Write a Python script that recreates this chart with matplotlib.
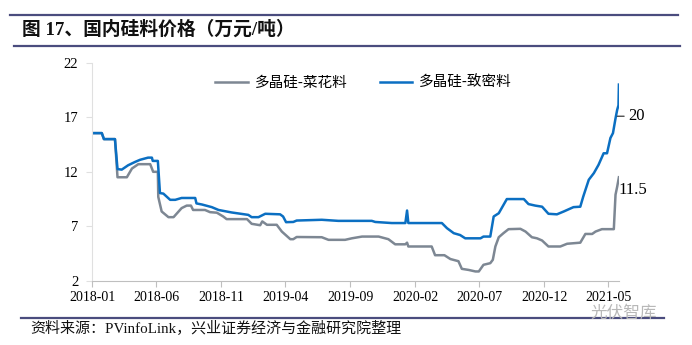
import pandas as pd
import matplotlib
matplotlib.use("Agg")
import matplotlib.pyplot as plt
from matplotlib.lines import Line2D

plt.rcParams['font.family'] = ['Liberation Serif', 'Noto Sans CJK SC', 'DejaVu Sans']

# polysilicon prices, 10k yuan / ton (at turning points)
dense_dates = ["2018-01-01", "2018-01-24", "2018-01-29", "2018-02-24", "2018-03-02", "2018-03-12",
               "2018-03-27", "2018-04-12", "2018-04-24", "2018-05-13", "2018-05-22", "2018-05-24",
               "2018-06-05", "2018-06-10", "2018-06-18", "2018-07-04", "2018-07-16", "2018-07-31",
               "2018-09-01", "2018-09-04", "2018-09-17", "2018-10-10", "2018-10-26", "2018-11-26",
               "2019-01-04", "2019-01-12", "2019-01-28", "2019-02-13", "2019-03-20", "2019-03-27",
               "2019-04-03", "2019-04-20", "2019-04-28", "2019-06-26", "2019-08-04", "2019-10-22",
               "2019-10-30", "2019-12-08", "2020-01-09", "2020-01-13", "2020-01-16", "2020-04-04",
               "2020-04-16", "2020-05-02", "2020-05-17", "2020-05-29", "2020-07-04", "2020-07-11",
               "2020-07-27", "2020-08-04", "2020-08-16", "2020-09-04", "2020-10-14", "2020-10-25",
               "2020-11-10", "2020-11-26", "2020-12-11", "2020-12-31", "2021-01-16", "2021-02-08",
               "2021-02-24", "2021-03-03", "2021-03-16", "2021-03-28", "2021-04-08", "2021-04-20",
               "2021-04-28", "2021-05-06", "2021-05-12", "2021-05-18", "2021-05-22", "2021-05-25",
               "2021-05-26"]
dense_price = [15.55, 15.55, 15.0, 15.0, 12.25, 12.2,
               12.6, 12.9, 13.1, 13.3, 13.3, 13.0,
               13.0, 10.05, 10.0, 9.43, 9.43, 9.6,
               9.6, 9.1, 9.0, 8.76, 8.5, 8.27,
               8.05, 7.84, 7.84, 8.15, 8.1, 7.9,
               7.38, 7.4, 7.53, 7.6, 7.5, 7.5,
               7.4, 7.3, 7.3, 8.45, 7.3, 7.3,
               6.83, 6.37, 6.2, 5.9, 5.9, 6.06,
               6.06, 7.9, 8.2, 9.5, 9.5, 9.04,
               8.9, 8.8, 8.15, 8.1, 8.36, 8.76,
               8.8, 9.73, 11.27, 11.88, 12.64, 13.7,
               13.7, 15.1, 15.55, 16.9, 17.7, 18.1,
               20.0]

cauli_dates = ["2018-01-01", "2018-01-24", "2018-01-29", "2018-02-24", "2018-03-02", "2018-03-24",
               "2018-04-05", "2018-04-20", "2018-05-18", "2018-05-25", "2018-06-05", "2018-06-06",
               "2018-06-14", "2018-06-30", "2018-07-12", "2018-07-31", "2018-08-12", "2018-08-22",
               "2018-08-27", "2018-09-24", "2018-10-06", "2018-10-22", "2018-11-06", "2018-11-14",
               "2019-01-01", "2019-01-12", "2019-02-01", "2019-02-06", "2019-02-17", "2019-03-12",
               "2019-03-24", "2019-04-13", "2019-04-20", "2019-04-28", "2019-06-26", "2019-07-12",
               "2019-08-20", "2019-09-05", "2019-09-29", "2019-11-07", "2019-11-30", "2019-12-16",
               "2020-01-09", "2020-01-13", "2020-01-16", "2020-03-11", "2020-03-19", "2020-04-10",
               "2020-04-24", "2020-05-13", "2020-05-21", "2020-06-06", "2020-06-22", "2020-06-30",
               "2020-07-11", "2020-07-27", "2020-08-02", "2020-08-08", "2020-08-16", "2020-08-27",
               "2020-09-08", "2020-10-06", "2020-10-18", "2020-11-02", "2020-11-14", "2020-11-26",
               "2020-12-11", "2021-01-08", "2021-01-24", "2021-02-24", "2021-03-08", "2021-03-24",
               "2021-04-01", "2021-04-16", "2021-05-14", "2021-05-18", "2021-05-22", "2021-05-26"]
cauli_price = [15.55, 15.55, 15.0, 15.0, 11.5, 11.5,
               12.3, 12.7, 12.7, 12.0, 12.0, 9.7,
               8.36, 7.84, 7.84, 8.67, 8.9, 8.9,
               8.5, 8.5, 8.3, 8.25, 7.9, 7.66,
               7.66, 7.23, 7.1, 7.45, 7.14, 7.14,
               6.52, 5.82, 5.82, 6.02, 6.0, 5.76,
               5.76, 5.9, 6.06, 6.06, 5.82, 5.35,
               5.35, 5.5, 5.15, 5.15, 4.35, 4.35,
               4.0, 3.8, 3.1, 3.0, 2.86, 2.86,
               3.47, 3.62, 3.93, 5.15, 6.0, 6.37,
               6.74, 6.77, 6.52, 6.0, 5.9, 5.7,
               5.15, 5.15, 5.4, 5.5, 6.3, 6.3,
               6.52, 6.74, 6.74, 9.9, 10.65, 11.5]

tick_labels = ["2018-01", "2018-06", "2018-11", "2019-04", "2019-09",
               "2020-02", "2020-07", "2020-12", "2021-05"]
y_ticks = [2, 7, 12, 17, 22]

dense = pd.Series(dense_price, index=pd.to_datetime(dense_dates))
cauli = pd.Series(cauli_price, index=pd.to_datetime(cauli_dates))

navy = "#4A4C7E"
gray = "#7D8793"
blue = "#0B6FC2"

fig = plt.figure(figsize=(6.92, 3.45), dpi=100)

# header / footer rules and texts
fig.add_artist(Line2D([0.015, 0.98], [0.957, 0.957], color=navy, lw=1.6))
fig.add_artist(Line2D([0.02, 0.983], [0.868, 0.868], color=navy, lw=1.6))
fig.add_artist(Line2D([0.03, 0.96], [0.079, 0.079], color=navy, lw=1.6))
fig.text(0.032, 0.913, "图 17、国内硅料价格（万元/吨）", fontsize=13.5, fontweight="bold",
         va="center", ha="left", color="#111111")
fig.text(0.043, 0.047, "资料来源：PVinfoLink，兴业证券经济与金融研究院整理", fontsize=10.8,
         va="center", ha="left", color="#111111")
fig.text(0.95, 0.092, "光伏智库", fontsize=12, va="center", ha="right", color="#B8B8B8",
         family=["Noto Sans CJK SC"])

ax = fig.add_axes([0.133, 0.186, 0.762, 0.632])
ax.plot(cauli.index, cauli.values, color=gray, lw=1.8, label="多晶硅-菜花料")
ax.plot(dense.index, dense.values, color=blue, lw=1.8, label="多晶硅-致密料")

ax.set_ylim(2, 22)
ax.set_yticks(y_ticks)
ax.set_xlim(pd.Timestamp("2018-01-01"), pd.Timestamp("2021-05-27"))
ax.set_xticks(pd.to_datetime([t + "-01" for t in tick_labels]))
ax.set_xticklabels(tick_labels)

for s in ["top", "right"]:
    ax.spines[s].set_visible(False)
ax.spines["left"].set_color("#E0E0E0")
ax.spines["bottom"].set_color("#BFBFBF")
ax.tick_params(axis="y", length=4, color="#E0E0E0", labelsize=10.5, pad=6)
ax.tick_params(axis="x", length=4, color="#BFBFBF", labelsize=10, pad=3)

# end-of-line value labels
ax.annotate("20", xy=(pd.Timestamp("2021-05-22"), 17.1), xytext=(8, 0),
            textcoords="offset points", va="center", ha="left", fontsize=12,
            arrowprops=dict(arrowstyle="-", color="#222222", lw=0.8, shrinkA=1, shrinkB=0))
ax.text(pd.Timestamp("2021-05-24"), 10.3, "11.5", va="center", ha="left", fontsize=12)

ax.legend(loc="upper center", bbox_to_anchor=(0.515, 1.0), ncol=2, frameon=False,
          handlelength=2.2, handletextpad=0.5, columnspacing=2.2,
          prop={"family": ["Noto Sans CJK SC"], "size": 10.5})

fig.savefig("out.png", dpi=100)
